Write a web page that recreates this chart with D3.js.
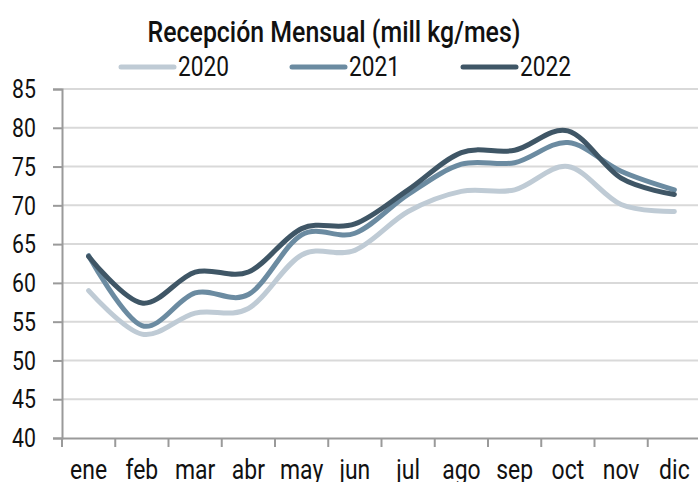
<!DOCTYPE html>
<html><head><meta charset="utf-8">
<script src="https://cdn.jsdelivr.net/npm/d3@7"></script>
<style>body{margin:0;background:#fff}svg{display:block}text{font-family:Roboto,"Liberation Sans",sans-serif;fill:#111}</style>
</head><body><svg id="c" width="698" height="482"></svg>
<script>
const months = ["ene","feb","mar","abr","may","jun","jul","ago","sep","oct","nov","dic"];
const s2020 = [59.0,53.4,56.1,56.7,63.6,64.2,69.2,71.8,72.0,75.0,70.1,69.2];
const s2021 = [63.5,54.5,58.7,58.5,66.2,66.4,71.4,75.3,75.5,78.1,74.4,72.0];
const s2022 = [63.4,57.4,61.4,61.4,67.0,67.6,72.0,76.8,77.1,79.6,73.5,71.4];
const seriesNames = ["2020","2021","2022"];
const colors = ["#bfcbd5","#6b8ba1","#3f5666"];
const yTicks = [40,45,50,55,60,65,70,75,80,85];
const title = "Recepción Mensual (mill kg/mes)";

(function(){
const svg = d3.select("#c");
const mL = 62, mR = 701, mT = 89, mB = 438;
const x = d3.scaleBand().domain(months).range([mL, mR]);
const y = d3.scaleLinear().domain([40,85]).range([mB, mT]);
const SX = 0.85;

// gridlines
svg.append("g").selectAll("line").data(yTicks.filter(d=>d>40)).join("line")
  .attr("x1", mL).attr("x2", 698).attr("y1", d=>y(d)).attr("y2", d=>y(d))
  .attr("stroke","#d9d9d9").attr("stroke-width",2);

// y axis
const ya = svg.append("g").attr("transform",`translate(${mL},0)`)
  .call(d3.axisLeft(y).tickValues(yTicks).tickSize(9).tickPadding(0).tickFormat(d3.format("d")));
ya.select(".domain").attr("stroke","#9a9a9a").attr("stroke-width",2);
ya.selectAll(".tick line").attr("stroke","#9a9a9a").attr("stroke-width",2);
ya.selectAll(".tick text").attr("font-size",25).attr("fill","#111").attr("text-anchor","end")
  .attr("x",null).attr("dy","0.35em")
  .attr("transform",`translate(-26,0) scale(${SX},1)`);

// x axis
const xa = svg.append("g").attr("transform",`translate(0,${mB})`)
  .call(d3.axisBottom(x).tickSize(0).tickFormat(d=>d));
xa.select(".domain").attr("stroke","#9a9a9a").attr("stroke-width",2);
xa.selectAll(".tick text").remove();
const bounds = months.map(m=>x(m)).concat([mR]);
xa.append("g").selectAll("line").data(bounds).join("line")
  .attr("x1",d=>d).attr("x2",d=>d).attr("y1",0).attr("y2",9)
  .attr("stroke","#9a9a9a").attr("stroke-width",2);
svg.append("g").selectAll("text").data(months).join("text")
  .attr("transform",d=>`translate(${x(d)+x.bandwidth()/2},479) scale(${SX},1)`)
  .attr("text-anchor","middle").attr("font-size",27).text(d=>d);

// lines
const line = d3.line().x((d,i)=>x(months[i])+x.bandwidth()/2).y(d=>y(d)).curve(d3.curveCatmullRom.alpha(0));
const data = [s2020,s2021,s2022];
svg.append("g").selectAll("path").data(data).join("path")
  .attr("d",line).attr("fill","none").attr("stroke",(d,i)=>colors[i])
  .attr("stroke-width",5).attr("stroke-linecap","round").attr("stroke-linejoin","round");

// title
svg.append("text").attr("transform",`translate(334,42) scale(0.83,1)`).attr("text-anchor","middle")
  .attr("font-size",30).attr("font-weight",500).text(title);

// legend
const legX = [118,289,460];
const lg = svg.append("g").selectAll("g").data(seriesNames).join("g")
  .attr("transform",(d,i)=>`translate(${legX[i]},67)`);
lg.append("line").attr("x1",3).attr("x2",56).attr("y1",0).attr("y2",0)
  .attr("stroke",(d,i)=>colors[i]).attr("stroke-width",5).attr("stroke-linecap","round");
lg.append("text").attr("transform",`translate(60,9) scale(0.84,1)`).attr("font-size",27).text(d=>d);
})();
</script></body></html>
